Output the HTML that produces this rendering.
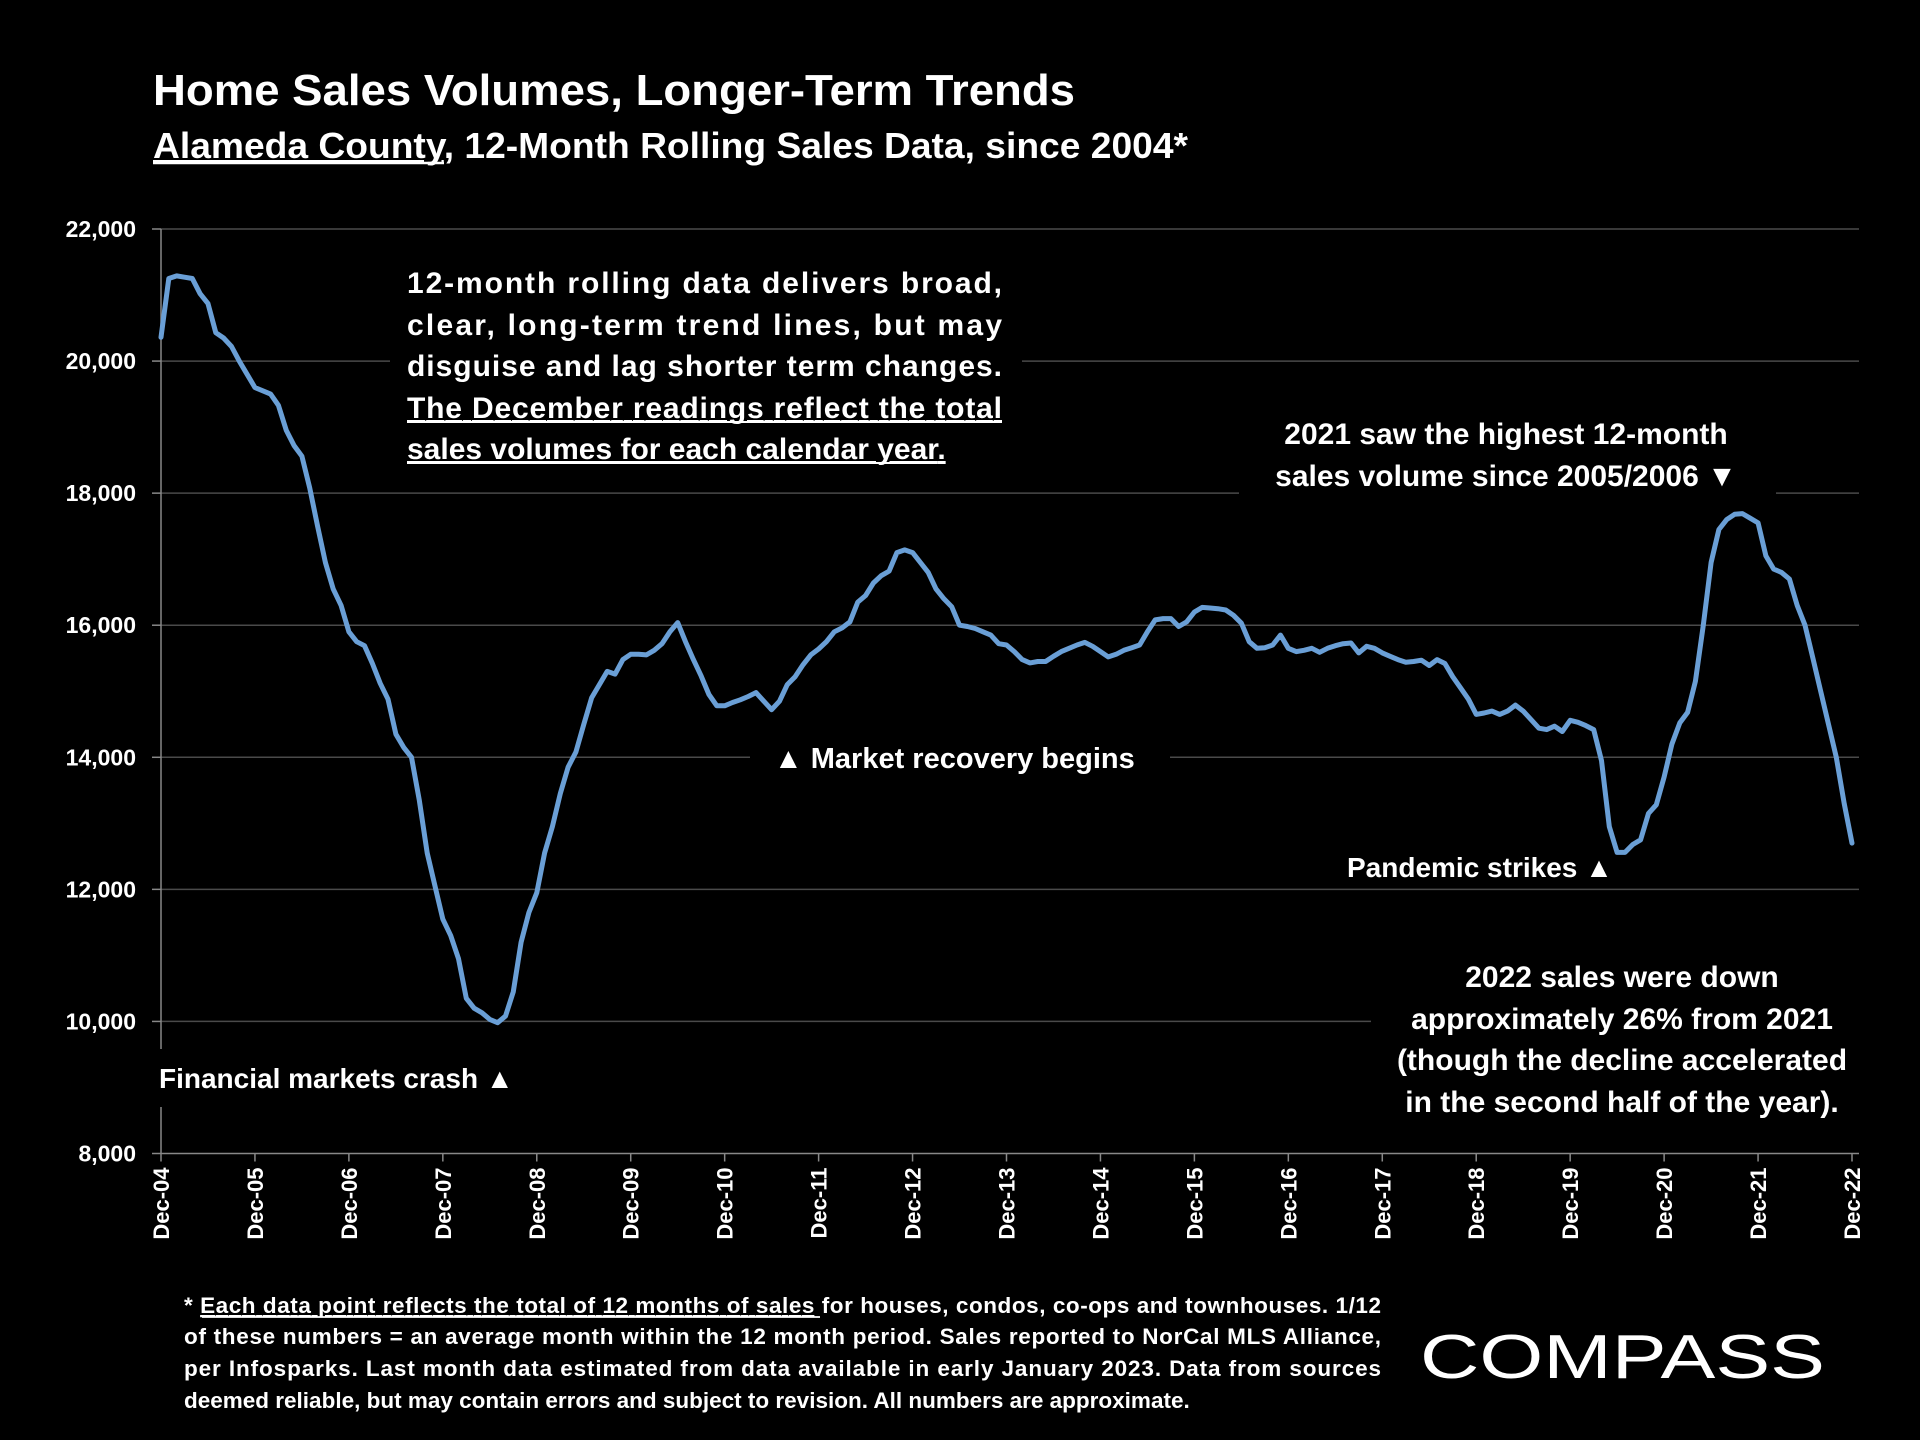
<!DOCTYPE html>
<html><head><meta charset="utf-8"><style>
html,body{margin:0;padding:0;background:#000;width:1920px;height:1440px;overflow:hidden}
svg{display:block}
text{font-family:"Liberation Sans",sans-serif;fill:#fff;font-weight:bold}
</style></head><body>
<svg id="chart" width="1920" height="1440" viewBox="0 0 1920 1440" xmlns="http://www.w3.org/2000/svg">
<rect width="1920" height="1440" fill="#000"/>
<text x="153" y="105" font-size="44" textLength="922" lengthAdjust="spacingAndGlyphs">Home Sales Volumes, Longer-Term Trends</text>
<text x="153" y="158" font-size="36" textLength="1035" lengthAdjust="spacingAndGlyphs"><tspan text-decoration="underline">Alameda County</tspan>, 12-Month Rolling Sales Data, since 2004*</text>
<line x1="153" y1="163" x2="444" y2="163" stroke="#fff" stroke-width="2.5"/>
<g id="grid"></g>
<g id="axes"></g>
<g id="series"></g>
<g id="annotations">
<rect x="390" y="255" width="632" height="215" fill="#000"/>
<g font-size="30">
<text x="407" y="293" textLength="595" lengthAdjust="spacing">12-month rolling data delivers broad,</text>
<text x="407" y="335" textLength="595" lengthAdjust="spacing">clear, long-term trend lines, but may</text>
<text x="407" y="376" textLength="595" lengthAdjust="spacing">disguise and lag shorter term changes.</text>
<text x="407" y="418" textLength="595" lengthAdjust="spacing" text-decoration="underline">The December readings reflect the total</text>
<text x="407" y="459" text-decoration="underline">sales volumes for each calendar year<tspan text-decoration="none">.</tspan></text>
<line x1="407" y1="422" x2="1002" y2="422" stroke="#fff" stroke-width="2"/>
<line x1="407" y1="463" x2="930" y2="463" stroke="#fff" stroke-width="2"/>
</g>
<rect x="1239" y="405" width="537" height="95" fill="#000"/>
<g font-size="30" text-anchor="middle">
<text x="1506" y="444">2021 saw the highest 12-month</text>
<text x="1506" y="486">sales volume since 2005/2006 ▼</text>
</g>
<rect x="750" y="735" width="420" height="44" fill="#000"/>
<text x="774" y="768" font-size="29">▲  Market recovery begins</text>
<text x="1347" y="877" font-size="28">Pandemic strikes ▲</text>
<rect x="1371" y="950" width="500" height="170" fill="#000"/>
<g font-size="30" text-anchor="middle">
<text x="1622" y="987">2022 sales were down</text>
<text x="1622" y="1029">approximately 26% from 2021</text>
<text x="1622" y="1070">(though the decline accelerated</text>
<text x="1622" y="1112">in the second half of the year).</text>
</g>
<rect x="150" y="1049" width="360" height="58" fill="#000"/>
<text x="159" y="1088" font-size="28">Financial markets crash ▲</text>
</g>
<g font-size="22.5">
<text x="184" y="1313" textLength="1197" lengthAdjust="spacing">* <tspan text-decoration="underline">Each data point reflects the total of 12 months of sales</tspan> for houses, condos, co-ops and townhouses. 1/12</text>
<text x="184" y="1344" textLength="1197" lengthAdjust="spacing">of these numbers = an average month within the 12 month period. Sales reported to NorCal MLS Alliance,</text>
<text x="184" y="1376" textLength="1197" lengthAdjust="spacing">per Infosparks. Last month data estimated from data available in early January 2023. Data from sources</text>
<text x="184" y="1408">deemed reliable, but may contain errors and subject to revision. All numbers are approximate.</text>
<line x1="202" y1="1317" x2="820" y2="1317" stroke="#fff" stroke-width="1.8"/>
</g>
<g>
<text x="1420" y="1378" font-size="62" font-weight="normal" style="font-weight:normal" textLength="405" lengthAdjust="spacingAndGlyphs">COMPASS</text>
</g>
</svg>
<script>
const yTicks = [8000,10000,12000,14000,16000,18000,20000,22000];
const xLabels = ["Dec-04","Dec-05","Dec-06","Dec-07","Dec-08","Dec-09","Dec-10","Dec-11","Dec-12","Dec-13","Dec-14","Dec-15","Dec-16","Dec-17","Dec-18","Dec-19","Dec-20","Dec-21","Dec-22"];
const sales = [20360,21250,21290,21270,21250,21020,20870,20430,20350,20220,20000,19800,
19600,19550,19500,19330,18950,18720,18560,18080,17500,16950,16550,16300,
15900,15750,15690,15420,15120,14880,14350,14150,14000,13350,12550,12050,
11550,11300,10950,10350,10200,10130,10030,9980,10080,10450,11200,11650,
11950,12550,12950,13450,13850,14080,14500,14900,15100,15300,15260,15480,
15560,15560,15550,15620,15720,15900,16040,15750,15480,15230,14950,14780,
14780,14830,14870,14920,14980,14850,14720,14850,15100,15220,15400,15550,
15640,15750,15900,15960,16050,16350,16450,16640,16750,16820,17100,17140,
17100,16950,16800,16550,16400,16280,16000,15980,15950,15900,15850,15720,
15700,15600,15480,15430,15450,15450,15530,15600,15650,15700,15740,15680,
15600,15520,15560,15620,15660,15700,15900,16080,16100,16100,15980,16050,
16200,16270,16260,16250,16230,16150,16030,15750,15650,15660,15700,15850,
15650,15600,15620,15650,15590,15650,15690,15720,15730,15580,15680,15650,
15580,15530,15480,15440,15450,15470,15390,15480,15420,15220,15050,14880,
14650,14670,14700,14650,14700,14790,14700,14570,14440,14420,14470,14390,
14560,14530,14480,14420,13950,12950,12560,12560,12680,12750,13150,13280,
13700,14200,14520,14680,15150,16000,16950,17450,17600,17680,17690,17620,
17550,17050,16850,16800,16700,16300,16000,15500,15000,14500,14000,13300,12700];

const NS="http://www.w3.org/2000/svg";
const X0=161, X1=1852, YTOP=229, YBOT=1153.5, VMIN=8000, VMAX=22000, RIGHT=1859;
const xMonth = m => X0 + (X1-X0)*m/(sales.length-1);
const yVal = v => YBOT - (v-VMIN)/(VMAX-VMIN)*(YBOT-YTOP);
function mk(tag, attrs, parent){const e=document.createElementNS(NS,tag);for(const k in attrs)e.setAttribute(k,attrs[k]);parent.appendChild(e);return e;}
const grid=document.getElementById('grid'), axes=document.getElementById('axes'), series=document.getElementById('series');

yTicks.forEach(v=>{
  const y=yVal(v);
  if(v>VMIN){
    const g=mk('line',{x1:X0,y1:y,x2:RIGHT,y2:y,stroke:'#4a4a4a','stroke-width':1.5},grid);
    
    
  }
  mk('line',{x1:X0-9,y1:y,x2:X0,y2:y,stroke:'#888','stroke-width':1.5},axes);
  const t=mk('text',{x:136,y:y+8,'font-size':23,'text-anchor':'end'},axes);
  t.textContent=v.toLocaleString('en-US');
  
  
});
const ya=mk('line',{x1:X0,y1:YTOP,x2:X0,y2:YBOT,stroke:'#888','stroke-width':1.5},axes);


const xa=mk('line',{x1:X0,y1:YBOT,x2:RIGHT,y2:YBOT,stroke:'#888','stroke-width':1.5},axes);


xLabels.forEach((lab,i)=>{
  const x=xMonth(i*12);
  mk('line',{x1:x,y1:YBOT,x2:x,y2:YBOT+8,stroke:'#888','stroke-width':1.5},axes);
  const t=mk('text',{x:0,y:0,'font-size':22,'text-anchor':'end',transform:`translate(${x+8},${YBOT+14}) rotate(-90)`},axes);
  t.textContent=lab;
  
  
});
let d='';
sales.forEach((v,i)=>{d+=(i?'L':'M')+xMonth(i).toFixed(1)+','+yVal(v).toFixed(1);});
const p=mk('path',{d:d,fill:'none',stroke:'#6a9fd6','stroke-width':5,'stroke-linejoin':'round','stroke-linecap':'round'},series);


// annotations drawn above the line where needed
const ann=document.getElementById('annotations');
document.getElementById('chart').appendChild(ann);
</script>
</body></html>
